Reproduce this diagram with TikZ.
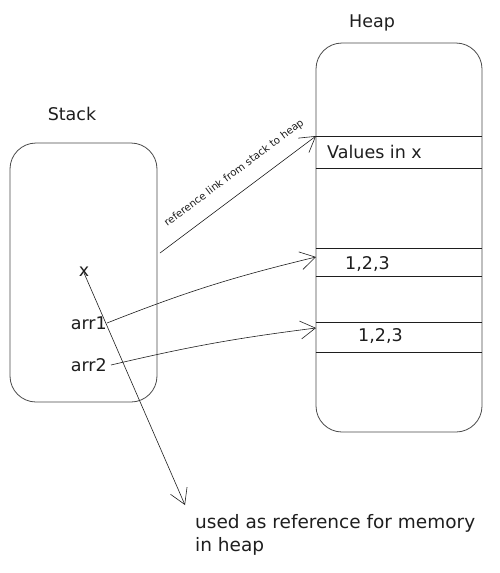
\documentclass[tikz,border=0pt]{standalone}
\usepackage{fontspec}
\setmainfont{DejaVu Sans}
\usetikzlibrary{arrows.meta}
\definecolor{ink}{HTML}{1E1E1E}
\definecolor{boxline}{HTML}{4A4A4A}
\tikzset{
  memboxstyle/.style={draw=boxline, line width=0.8pt, rounded corners=26pt, inner sep=0pt},
  lbl/.style={text=ink, font=\fontsize{17.5}{21}\selectfont, inner sep=0pt},
  slotline/.style={draw=ink, line width=0.7pt},
  refarrow/.style={draw=ink, line width=0.6pt, -{Straight Barb[length=15pt,width=18pt,line width=0.6pt]}},
}
\begin{document}
\begin{tikzpicture}[x=1pt,y=-1pt]
\useasboundingbox (0,0) rectangle (499,573);
% boxes
\node[memboxstyle, minimum width=147pt, minimum height=259pt] (stack) at (83.5,272.5) {};
\node[memboxstyle, minimum width=166pt, minimum height=389pt] (heap) at (399,237.5) {};
% titles
\node[lbl] (stacktitle) at (72,114) {Stack};
\node[lbl] (heaptitle) at (372,23) {Heap};
% heap slots
\foreach \yy in {136,168,248,276,322,352}{
  \draw[slotline] (heap.west |- 0,\yy) -- (heap.east |- 0,\yy);
}
% heap texts
\node[lbl, anchor=west] (valx) at (327,152) {Values in x};
\node[lbl, anchor=west] (v1) at (345,264) {1,2,3};
\node[lbl, anchor=west] (v2) at (358,336) {1,2,3};
% stack texts
\node[lbl] (xvar) at (84,272) {x};
\node[lbl, anchor=east] (arr1) at (107,323) {arr1};
\node[lbl, anchor=east] (arr2) at (107,365) {arr2};
% coordinates
\coordinate (s0) at (160,253);
\coordinate (h0) at (316,136);
\coordinate (h1) at (316,257);
\coordinate (h2) at (316,328);
\coordinate (xend) at (185,505);
% arrows
\draw[refarrow] (s0) -- node[sloped, above=14pt, pos=0.55, font=\fontsize{10.3}{12}\selectfont, text=ink, inner sep=0pt] {reference link from stack to heap} (h0);
\draw[refarrow] (arr1.east) to[bend left=4] (h1);
\draw[refarrow] ([xshift=4pt]arr2.east) to[bend left=3] (h2);
\draw[refarrow] ([yshift=4pt]xvar.south) -- (xend);
% bottom text
\node[lbl, anchor=north west, align=left, font=\fontsize{18.5}{23}\selectfont] (note) at (195,514) {used as reference for memory\\in heap};
\end{tikzpicture}
\end{document}
